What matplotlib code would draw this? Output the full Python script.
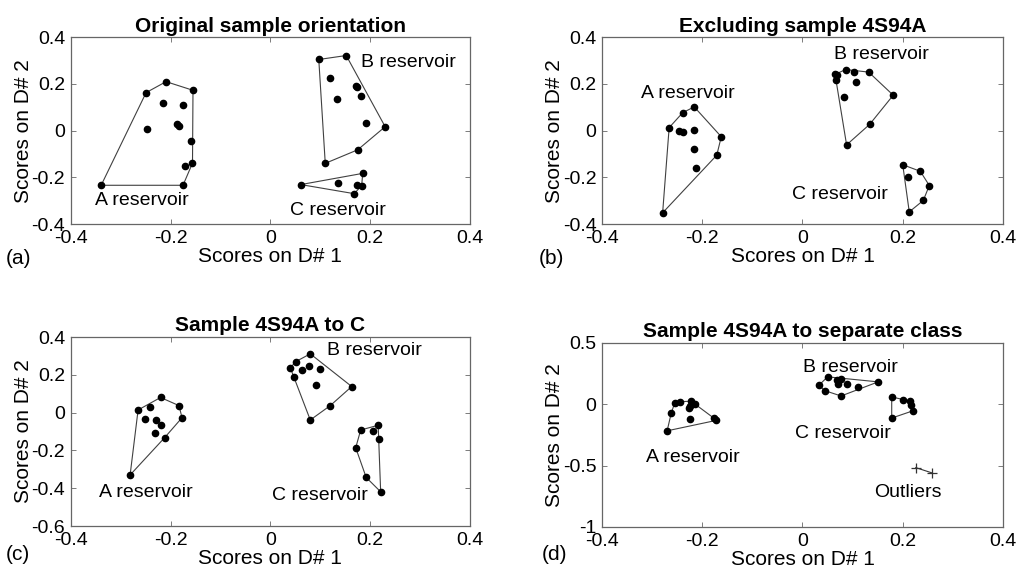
import numpy as np
import matplotlib
matplotlib.use("Agg")
import matplotlib.pyplot as plt
from matplotlib.ticker import FuncFormatter

plt.rcParams['font.family'] = ['Liberation Sans', 'DejaVu Sans']
plt.rcParams['axes.unicode_minus'] = False

# (a) original sample orientation
a_A_x = [-0.339, -0.175, -0.156, -0.172, -0.160, -0.155, -0.209, -0.249, -0.215, -0.175, -0.247, -0.187, -0.184]
a_A_y = [-0.234, -0.234, -0.139, -0.150, -0.045, 0.173, 0.210, 0.163, 0.119, 0.108, 0.007, 0.027, 0.022]
a_B_x = [0.097, 0.152, 0.230, 0.175, 0.110, 0.120, 0.171, 0.173, 0.181, 0.133, 0.192]
a_B_y = [0.305, 0.322, 0.017, -0.082, -0.140, 0.226, 0.191, 0.188, 0.150, 0.136, 0.034]
a_C_x = [0.061, 0.185, 0.168, 0.135, 0.173, 0.183]
a_C_y = [-0.231, -0.183, -0.270, -0.224, -0.231, -0.235]

# (b) excluding sample 4S94A
b_A_x = [-0.279, -0.266, -0.239, -0.216, -0.162, -0.171, -0.247, -0.239, -0.216, -0.216, -0.213]
b_A_y = [-0.352, 0.013, 0.077, 0.102, -0.026, -0.105, -0.001, -0.007, 0.003, -0.077, -0.162]
b_B_x = [0.065, 0.069, 0.086, 0.102, 0.132, 0.181, 0.134, 0.088, 0.067, 0.107, 0.082]
b_B_y = [0.241, 0.237, 0.262, 0.251, 0.251, 0.152, 0.027, -0.061, 0.216, 0.209, 0.145]
b_C_x = [0.200, 0.235, 0.253, 0.241, 0.213, 0.211]
b_C_y = [-0.146, -0.174, -0.235, -0.299, -0.348, -0.199]

# (c) sample 4S94A to C
c_A_x = [-0.281, -0.265, -0.241, -0.220, -0.183, -0.177, -0.212, -0.252, -0.229, -0.220, -0.231]
c_A_y = [-0.330, 0.014, 0.032, 0.080, 0.037, -0.027, -0.133, -0.034, -0.039, -0.067, -0.108]
c_B_x = [0.040, 0.051, 0.080, 0.163, 0.120, 0.080, 0.048, 0.064, 0.078, 0.099, 0.091]
c_B_y = [0.237, 0.270, 0.311, 0.138, 0.037, -0.039, 0.186, 0.223, 0.244, 0.231, 0.145]
c_C_x = [0.181, 0.216, 0.217, 0.221, 0.192, 0.171, 0.205]
c_C_y = [-0.092, -0.067, -0.140, -0.419, -0.343, -0.186, -0.099]

# (d) sample 4S94A to separate class
d_A_x = [-0.270, -0.262, -0.255, -0.245, -0.222, -0.214, -0.226, -0.224, -0.177, -0.172, -0.225]
d_A_y = [-0.216, -0.074, 0.011, 0.022, 0.025, 0.000, -0.027, -0.016, -0.112, -0.131, -0.123]
d_B_x = [0.033, 0.050, 0.077, 0.151, 0.111, 0.077, 0.044, 0.069, 0.070, 0.089]
d_B_y = [0.156, 0.224, 0.205, 0.183, 0.142, 0.068, 0.112, 0.197, 0.164, 0.164]
d_C_x = [0.178, 0.201, 0.214, 0.221, 0.178, 0.216]
d_C_y = [0.060, 0.038, 0.027, -0.052, -0.112, -0.008]
out_x = [0.226, 0.259]
out_y = [-0.516, -0.560]

titles = ["Original sample orientation", "Excluding sample 4S94A",
          "Sample 4S94A to C", "Sample 4S94A to separate class"]
panel_tags = ["(a)", "(b)", "(c)", "(d)"]


def hull(xs, ys):
    # monotone chain convex hull, closed
    pts = sorted(set(zip(xs, ys)))

    def cross(o, a, b):
        return (a[0] - o[0]) * (b[1] - o[1]) - (a[1] - o[1]) * (b[0] - o[0])
    lower = []
    for p in pts:
        while len(lower) >= 2 and cross(lower[-2], lower[-1], p) <= 0:
            lower.pop()
        lower.append(p)
    upper = []
    for p in reversed(pts):
        while len(upper) >= 2 and cross(upper[-2], upper[-1], p) <= 0:
            upper.pop()
        upper.append(p)
    h = lower[:-1] + upper[:-1]
    h.append(h[0])
    return [p[0] for p in h], [p[1] for p in h]


def cluster(ax, xs, ys):
    hx, hy = hull(xs, ys)
    ax.plot(hx, hy, '-', color='0.25', lw=0.8, zorder=2)
    ax.plot(xs, ys, 'o', color='black', ms=4.5, zorder=3)


fig = plt.figure(figsize=(10.16, 5.75), dpi=100)
positions = [[0.0696, 0.6104, 0.393, 0.3247],
             [0.5925, 0.6104, 0.3947, 0.3247],
             [0.0696, 0.0852, 0.393, 0.3287],
             [0.5925, 0.0835, 0.3947, 0.3200]]
axes = [fig.add_axes(p) for p in positions]

fmt = FuncFormatter(lambda v, p: "%g" % round(v, 3))
fs_tick = 14
fs_lab = 15
fs_txt = 14

for i, ax in enumerate(axes):
    ax.set_xlim(-0.4, 0.4)
    ax.set_xticks([-0.4, -0.2, 0, 0.2, 0.4])
    ax.xaxis.set_major_formatter(fmt)
    ax.yaxis.set_major_formatter(fmt)
    ax.tick_params(direction='in', top=True, right=True, length=3.5, width=0.6,
                   color='0.4', labelsize=fs_tick)
    ax.tick_params(axis='x', pad=4)
    ax.tick_params(axis='y', pad=4)
    for s in ax.spines.values():
        s.set_color('0.4')
        s.set_linewidth(0.9)
    ax.set_title(titles[i], fontsize=fs_lab, fontweight='bold', pad=4)
    ax.set_xlabel("Scores on D# 1", fontsize=fs_lab, labelpad=0)
    ax.set_ylabel("Scores on D# 2", fontsize=fs_lab, labelpad=-1)

for ax in axes[:2]:
    ax.set_ylim(-0.4, 0.4)
    ax.set_yticks([-0.4, -0.2, 0, 0.2, 0.4])
axes[2].set_ylim(-0.6, 0.4)
axes[2].set_yticks([-0.6, -0.4, -0.2, 0, 0.2, 0.4])
axes[3].set_ylim(-1, 0.5)
axes[3].set_yticks([-1, -0.5, 0, 0.5])

ax = axes[0]
cluster(ax, a_A_x, a_A_y)
cluster(ax, a_B_x, a_B_y)
cluster(ax, a_C_x, a_C_y)
ax.text(-0.352, -0.30, "A reservoir", fontsize=fs_txt, va='center')
ax.text(0.181, 0.29, "B reservoir", fontsize=fs_txt, va='center')
ax.text(0.04, -0.34, "C reservoir", fontsize=fs_txt, va='center')

ax = axes[1]
cluster(ax, b_A_x, b_A_y)
cluster(ax, b_B_x, b_B_y)
cluster(ax, b_C_x, b_C_y)
ax.text(-0.322, 0.16, "A reservoir", fontsize=fs_txt, va='center')
ax.text(0.062, 0.326, "B reservoir", fontsize=fs_txt, va='center')
ax.text(-0.021, -0.274, "C reservoir", fontsize=fs_txt, va='center')

ax = axes[2]
cluster(ax, c_A_x, c_A_y)
cluster(ax, c_B_x, c_B_y)
cluster(ax, c_C_x, c_C_y)
ax.text(-0.343, -0.424, "A reservoir", fontsize=fs_txt, va='center')
ax.text(0.114, 0.329, "B reservoir", fontsize=fs_txt, va='center')
ax.text(0.004, -0.436, "C reservoir", fontsize=fs_txt, va='center')

ax = axes[3]
cluster(ax, d_A_x, d_A_y)
cluster(ax, d_B_x, d_B_y)
cluster(ax, d_C_x, d_C_y)
ax.plot(out_x, out_y, '+-', color='0.2', lw=0.8, ms=7, mew=0.9)
ax.text(-0.313, -0.432, "A reservoir", fontsize=fs_txt, va='center')
ax.text(0.002, 0.30, "B reservoir", fontsize=fs_txt, va='center')
ax.text(-0.015, -0.24, "C reservoir", fontsize=fs_txt, va='center')
ax.text(0.142, -0.72, "Outliers", fontsize=fs_txt, va='center')

tag_pos = [(0.006, 0.551), (0.53, 0.551), (0.006, 0.035), (0.533, 0.035)]
for t, (x, y) in zip(panel_tags, tag_pos):
    fig.text(x, y, t, fontsize=fs_lab, va='center')

fig.savefig("out.png", dpi=100, facecolor='white')
